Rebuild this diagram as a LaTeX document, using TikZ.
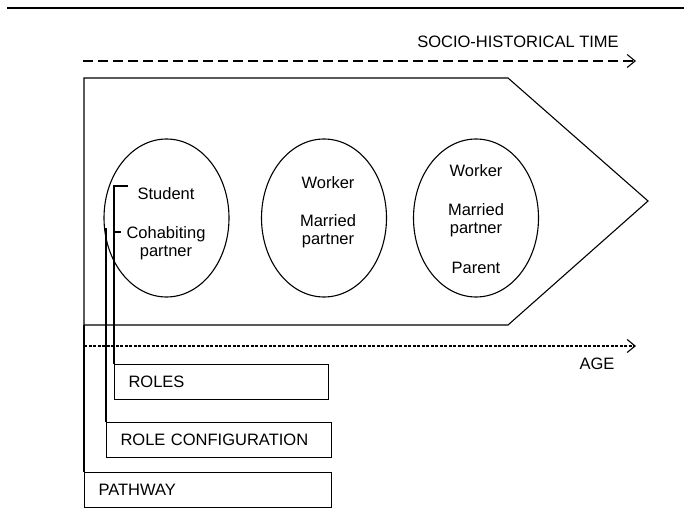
\documentclass[tikz,border=0pt]{standalone}
\usepackage{fontspec}
\setmainfont{Liberation Sans}
\usetikzlibrary{arrows.meta,shapes.geometric,positioning}

\begin{document}
\begin{tikzpicture}[x=1pt,y=-1pt,line width=1.1pt,
  stage/.style={draw,ellipse,minimum width=125pt,minimum height=158pt,inner sep=0pt},
  role/.style={inner sep=0pt,anchor=base,font=\fontsize{16.5}{18}\selectfont},
  tier/.style={draw,anchor=north west,minimum height=35pt,inner xsep=14pt,inner ysep=0pt,
    align=left,font=\fontsize{16.5}{18}\selectfont},
  timeline/.style={-{Straight Barb[length=8pt,width=13pt]}}]
  \useasboundingbox (0,0) rectangle (684,526);
  \draw[line width=1.3pt] (7,8) -- (684,8);

  % socio-historical time
  \coordinate (th0) at (83,61); \coordinate (th1) at (636,61);
  \draw[timeline,dash pattern=on 10pt off 5pt] (th0) -- (th1);
  \node[role,anchor=center] (socio) at (518,42) {SOCIO-HISTORICAL TIME};

  % life course pentagon
  \coordinate (pl) at (84,325);
  \draw (pl) -- (84,78) -- (508,78) -- (648,201) -- (508,325) -- cycle;

  % age
  \coordinate (ag0) at (84,346); \coordinate (ag1) at (636,346);
  \draw[timeline,dash pattern=on 3pt off 1.5pt] (ag0) -- (ag1);
  \node[role,anchor=center] (age) at (597,364) {AGE};

  % role configurations
  \node[stage] (stageA) at (166.5,218) {};
  \node[stage] (stageB) at (324,218) {};
  \node[stage] (stageC) at (476,218) {};

  \node[role] (student) at (166,200) {Student};
  \node[role] (cohab) at (166,239) {Cohabiting};
  \node[role] (partnerA) at (166,256) {partner};

  \node[role] (workerB) at (328,189) {Worker};
  \node[role] (marriedB) at (328,227) {Married};
  \node[role] (partnerB) at (328,245) {partner};

  \node[role] (workerC) at (476,177) {Worker};
  \node[role] (marriedC) at (476,216) {Married};
  \node[role] (partnerC) at (476,234) {partner};
  \node[role] (parentC) at (476,273) {Parent};

  % levels
  \node[tier,text width=186pt] (roles) at (114,364) {ROLES};
  \node[tier,text width=197pt] (config) at (106,422) {ROLE CONFIGURATION};
  \node[tier,text width=219pt] (pathway) at (84,472) {PATHWAY};

  \coordinate (cohabtick) at ([xshift=-5pt,yshift=7pt]cohab.base west);
  \coordinate (touch) at ([yshift=-10pt]stageA.west);
  \draw (roles.north west) |- ([xshift=-9pt,yshift=14pt]student.base west);
  \draw (roles.north west |- cohabtick) -- (cohabtick);
  \draw (config.north west) -- (config.north west |- touch);
  \draw (pathway.north west) -- (pl);
\end{tikzpicture}
\end{document}
